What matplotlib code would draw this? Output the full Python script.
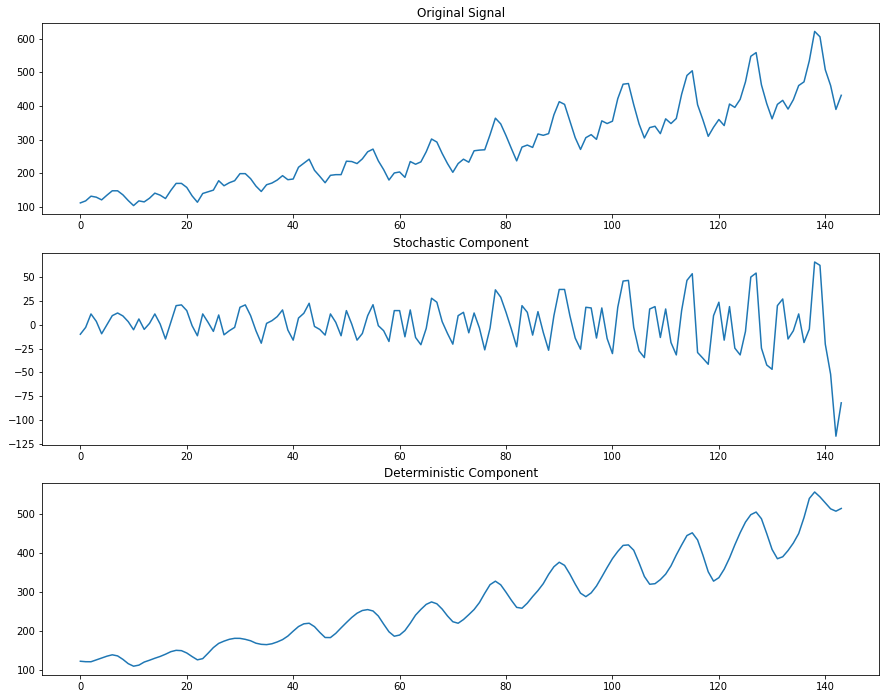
import matplotlib
matplotlib.use("Agg")
import matplotlib.pyplot as plt

original = [112, 118, 132, 129, 121, 135, 148, 148, 136, 119, 104, 118,
            115, 126, 141, 135, 125, 149, 170, 170, 158, 133, 114, 140,
            145, 150, 178, 163, 172, 178, 199, 199, 184, 162, 146, 166,
            171, 180, 193, 181, 183, 218, 230, 242, 209, 191, 172, 194,
            196, 196, 236, 235, 229, 243, 264, 272, 237, 211, 180, 201,
            204, 188, 235, 227, 234, 264, 302, 293, 259, 229, 203, 229,
            242, 233, 267, 269, 270, 315, 364, 347, 312, 274, 237, 278,
            284, 277, 317, 313, 318, 374, 413, 405, 355, 306, 271, 306,
            315, 301, 356, 348, 355, 422, 465, 467, 404, 347, 305, 336,
            340, 318, 362, 348, 363, 435, 491, 505, 404, 359, 310, 337,
            360, 342, 406, 396, 420, 472, 548, 559, 463, 407, 362, 405,
            417, 391, 419, 461, 472, 535, 622, 606, 508, 461, 390, 432]

stochastic = [-10, -2.8, 11.3, 3.5, -9.5, 0, 9.5, 12.3, 9.2, 3.2, -5.3, 6,
              -4.9, 1.4, 11.3, 0.7, -15, 2.5, 20, 20.8, 14.8, -1, -11.6, 11.3,
              2.5, -7, 10.2, -10.6, -6.3, -2.8, 18.3, 20.8, 9.5, -6.3, -19.4, 1.4,
              4.2, 8.5, 15.5, -5.6, -16.2, 7, 12, 22.5, -1.8, -5, -10.9, 11.3,
              2.5, -11.6, 14.8, 0.7, -16.2, -9.2, 9.5, 21, -1, -6.3, -17.6, 14.8,
              14.8, -12.7, 15.5, -13.4, -21, -3.9, 27.8, 23.6, 3.2, -9.2, -20.4, 9.5,
              13, -8.5, 12.3, -3.5, -26.4, -3.5, 36.6, 28.9, 13, -4.6, -23.2, 20,
              13, -10.9, 13.7, -8.1, -26.8, 9.5, 37, 37, 9.5, -14, -25.7, 18.3,
              17.6, -14, 17.6, -14.5, -30.3, 18.3, 45.8, 46.5, -2.8, -27.5, -34.5, 16.5,
              19, -13.4, 16.5, -18.7, -31.7, 14.8, 46.5, 53.5, -29.2, -35.2, -41.5, 9.5,
              23.6, -16.2, 19, -24.6, -31.7, -7, 50, 54.2, -24.6, -42.3, -46.8, 20,
              27, -15, -6.3, 11.3, -18.7, -4.6, 65.8, 62.3, -20.4, -52, -117, -82]

deterministic = [122, 120.8, 120.7, 125.5, 130.5, 135, 138.5, 135.7, 126.8, 115.8, 109.3, 112,
                 119.9, 124.6, 129.7, 134.3, 140, 146.5, 150, 149.2, 143.2, 134, 125.6, 128.7,
                 142.5, 157, 167.8, 173.6, 178.3, 180.8, 180.7, 178.2, 174.5, 168.3, 165.4, 164.6,
                 166.8, 171.5, 177.5, 186.6, 199.2, 211, 218, 219.5, 210.8, 196, 182.9, 182.7,
                 193.5, 207.6, 221.2, 234.3, 245.2, 252.2, 254.5, 251, 238, 217.3, 197.6, 186.2,
                 189.2, 200.7, 219.5, 240.4, 255, 267.9, 274.2, 269.4, 255.8, 238.2, 223.4, 219.5,
                 229, 241.5, 254.7, 272.5, 296.4, 318.5, 327.4, 318.1, 299, 278.6, 260.2, 258,
                 271, 287.9, 303.3, 321.1, 344.8, 364.5, 376, 368, 345.5, 320, 296.7, 287.7,
                 297.4, 315, 338.4, 362.5, 385.3, 403.7, 419.2, 420.5, 406.8, 374.5, 339.5, 319.5,
                 321, 331.4, 345.5, 366.7, 394.7, 420.2, 444.5, 451.5, 433.2, 394.2, 351.5, 327.5,
                 336.4, 358.2, 387, 420.6, 451.7, 479, 498, 504.8, 487.6, 449.3, 408.8, 385,
                 390, 406, 425.3, 449.7, 490.7, 539.6, 556.2, 543.7, 528.4, 513, 507, 514]

titles = ["Original Signal", "Stochastic Component", "Deterministic Component"]
series = [original, stochastic, deterministic]

W, H = 885, 699
fig = plt.figure(figsize=(W / 72, H / 72), dpi=72)
left = 42.3 / W
width = 837 / W
tops = [22.7, 253.3, 483.3]
height_px = 191.6
for top, title, data in zip(tops, titles, series):
    ax = fig.add_axes([left, (H - top - height_px) / H, width, height_px / H])
    ax.plot(range(len(data)), data, color="#1f77b4", linewidth=1.5)
    ax.set_title(title, fontsize=12)
    ax.tick_params(labelsize=10)

fig.savefig("out.png", dpi=72)
